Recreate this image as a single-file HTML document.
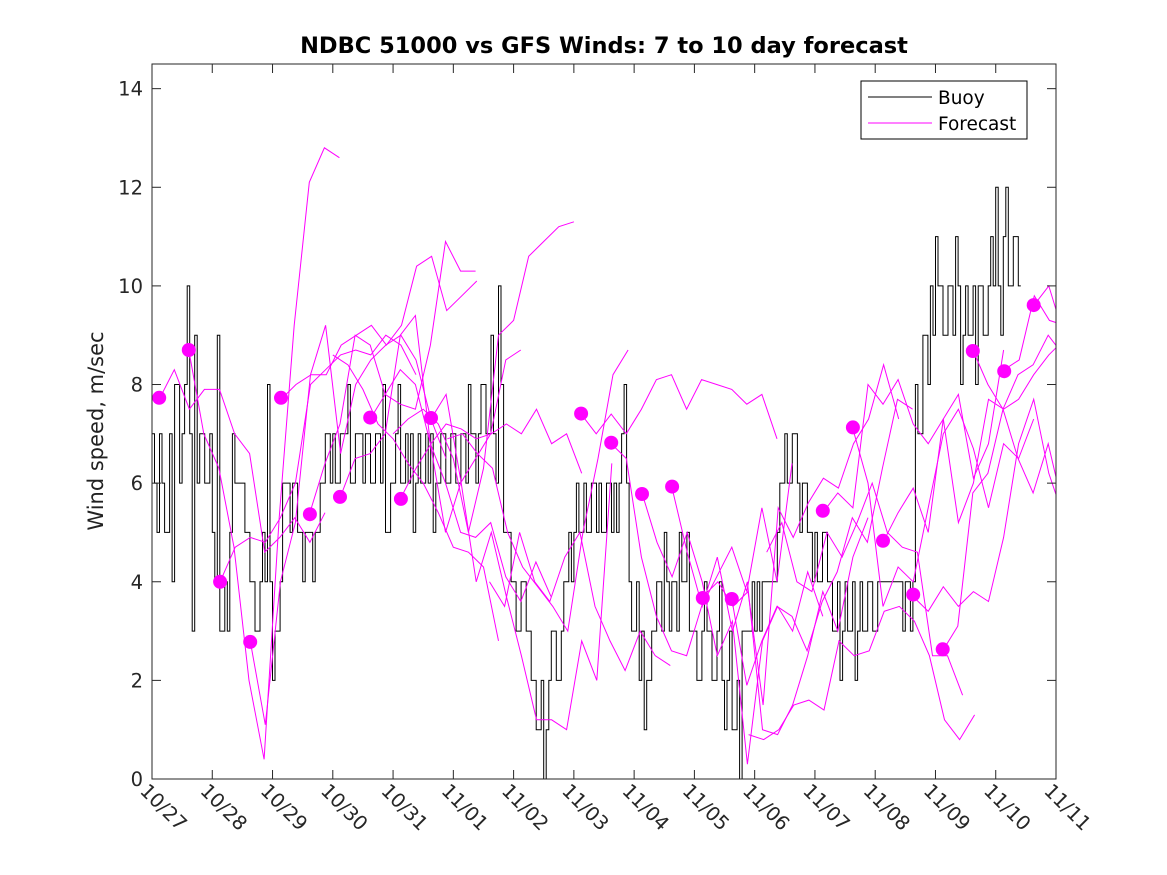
<!DOCTYPE html>
<html><head><meta charset="utf-8"><style>
html,body{margin:0;padding:0;background:#fff;}
svg{display:block;font-family:"DejaVu Sans","Liberation Sans",sans-serif;}
</style></head><body>
<svg id="chart" width="1167" height="875" viewBox="0 0 1167 875" xmlns="http://www.w3.org/2000/svg">
<rect x="0" y="0" width="1167" height="875" fill="#fff"/>
<text x="604" y="53" text-anchor="middle" font-size="22.5" font-weight="bold" fill="#000">NDBC 51000 vs GFS Winds: 7 to 10 day forecast</text>
<text transform="translate(103,431) rotate(-90)" text-anchor="middle" font-size="21" fill="#222">Wind speed, m/sec</text>
<g id="plot"></g>
<g id="axes"></g>
<g>
<rect x="861" y="81" width="166" height="58" fill="#fff" stroke="#000" stroke-width="1"/>
<line x1="868" y1="97" x2="932" y2="97" stroke="#000" stroke-width="1"/>
<text x="938" y="104" font-size="18.5" fill="#000">Buoy</text>
<line x1="868" y1="123" x2="932" y2="123" stroke="#ff00ff" stroke-width="1"/>
<text x="938" y="130" font-size="18.5" fill="#000">Forecast</text>
</g>
</svg>
<script>
const xTickLabels=["10/27","10/28","10/29","10/30","10/31","11/01","11/02","11/03","11/04","11/05","11/06","11/07","11/08","11/09","11/10","11/11"];
const yTicks=[0,2,4,6,8,10,12,14];
// buoy wind speed, 2-hour samples starting 10/27 00:00
const buoy=[
7,5,6,5,4,8,7,10,3,6,7,6,
5,9,3,3,7,6,6,5,4,3,5,8,
2,3,6,6,6,5,4,5,4,5,6,7,
7,6,7,8,6,7,6,7,6,7,8,5,
6,8,6,6,5,7,6,6,5,6,7,6,
7,6,7,8,7,7,8,7,7,10,5,5,
4,3,4,3,2,1,0,2,3,2,4,5,
5,5,6,5,6,6,5,6,6,6,8,4,
3,2,1,2,3,4,5,3,4,5,4,3,
3,2,4,3,2,4,1,3,1,0,3,3,
3,3,4,4,4,6,7,6,7,5,6,5,
5,4,5,4,3,2,4,3,2,4,3,4,
3,4,4,4,4,4,4,3,8,7,9,10,
11,10,9,10,11,8,10,9,8,10,9,11,
12,9,12,10,11];
const buoyAlt=[
6,7,5,7,8,6,8,7,9,7,6,7,
4,3,4,5,6,6,5,4,3,4,4,4,
3,4,6,5,6,5,5,5,5,6,7,6,
6,7,7,6,7,7,7,6,7,6,5,6,
7,6,7,7,6,6,7,7,6,7,6,7,
6,7,6,7,6,8,7,9,6,8,5,4,
3,4,3,2,1,2,1,3,2,3,4,4,
6,5,5,6,5,5,6,5,5,7,6,3,
4,3,2,3,4,3,4,4,3,4,5,3,
2,3,3,2,3,2,2,1,2,3,3,4,
4,4,4,4,5,6,6,7,6,6,5,4,
4,5,4,3,4,3,3,4,3,3,4,3,
4,4,4,4,4,3,4,4,7,9,8,9,
10,9,10,9,10,9,9,10,10,9,10,10,
10,11,10,11,10];
// forecast segments: start day (since 10/27) and values every 6 hours
const fcStart=[0.12,0.61,1.13,1.63,2.14,2.62,3.12,3.62,4.13,4.63,3.0,4.0,4.9,7.12,7.62,8.13,8.63,9.14,9.62,11.13,11.63,12.13,12.63,13.12,13.62,14.14,14.63,9.9,10.2,5.6];
const fcVals=[
[7.7,8.3,7.5,7.9,7.9,7.0,6.6,4.6,4.9,5.3,4.8,5.4],
[8.7,7.0,6.3,4.7,2.0,0.4,5.3,9.2,12.1,12.8,12.6],
[4.0,4.7,4.9,4.8,5.3,6.0,8.0,8.3,8.6,8.7,8.6,9.0,8.8,8.2],
[2.8,1.1,4.0,5.2,8.2,9.2,6.6,8.0,8.5,8.8,9.0,8.5,7.3,6.5],
[7.7,8.0,8.2,8.2,8.8,9.0,9.2,8.8,9.2,10.4,10.6,9.5,9.8,10.1],
[5.4,6.4,7.2,9.0,8.8,7.8,7.6,7.5,8.8,10.9,10.3,10.3],
[5.7,6.5,6.6,7.0,9.0,9.4,6.8,5.0,6.0,6.5,7.0,8.5,8.7],
[7.3,7.8,8.3,8.0,6.8,6.0,5.0,4.9,5.2,4.1,3.6,4.4,3.7],
[5.7,6.3,6.8,7.2,7.1,6.9,7.0,7.2,7.0,7.5,6.8,7.0,6.2],
[7.3,7.8,6.0,4.0,5.0,3.7,2.5,1.2,1.2,1.0,2.8,2.0,6.4],
[8.6,8.4,7.9,7.2,6.9,6.4,6.0,5.4,4.7,4.6,4.3,2.8],
[7.0,7.3,7.5,7.2,6.5,5.0,6.3,9.0,9.3,10.6,10.9,11.2,11.3],
[6.9,7.0,6.6,6.3,5.0,4.3,3.9,3.5,3.0,5.0,6.5,8.2,8.7],
[7.4,7.0,7.4,7.0,7.5,8.1,8.2,7.5,8.1,8.0,7.9,7.6,7.8,6.9],
[6.8,6.5,4.5,3.3,2.6,2.5,3.5,4.1,4.7,3.8,5.5,4.0,6.4],
[5.8,4.8,4.1,5.0,4.0,2.5,3.2,0.3,2.8,3.5,3.0,4.2,3.3],
[5.9,4.6,3.5,4.5,3.0,4.0,1.0,0.9,1.5,2.5,3.8,3.0,4.5,5.3],
[3.7,4.0,3.5,3.8,1.5,5.5,4.9,5.6,6.1,5.9,6.8,7.3,8.4,7.3],
[3.65,1.9,2.8,3.5,3.3,2.6,3.6,4.2,5.3,4.8,6.3,7.7,7.5],
[5.4,5.8,5.5,8.0,7.6,8.1,7.2,6.8,7.3,7.8,6.1,6.8,8.7],
[7.1,6.0,3.5,4.3,4.0,5.5,7.0,7.5,6.7,5.5,6.8,6.5,7.3],
[4.8,5.4,5.9,5.0,7.3,5.2,6.0,7.7,7.5,7.7,8.2,8.6,8.9],
[3.7,3.4,3.9,3.5,3.8,3.6,4.9,6.8,7.7,6.2,5.3,6.5,5.5],
[2.6,3.1,5.8,6.2,7.5,6.5,5.8,6.8,5.5,8.5,9.3,10.3],
[8.7,8.0,7.5,8.2,8.4,9.0,8.6,9.2,9.3,10.2,9.9,9.6,9.2],
[8.3,8.5,9.8,9.3,9.2,8.7,7.6],
[9.6,10.0,9.0,8.9,8.5,7.0],
[0.9,0.8,1.0,1.5,1.6,1.4,2.8,2.5,2.6,3.4,3.5,3.2,2.5,1.2,0.8,1.3],
[4.6,5.2,4.0,3.8,5.0,4.5,5.2,6.0,5.0,4.7,4.6,2.5,2.5,1.7],
[4.0,3.5,5.0,4.0,3.6,4.5,5.0,3.5,2.8,2.2,3.0,2.5,2.3]];
const dotDays=[0.12,0.61,1.13,1.63,2.14,2.62,3.12,3.62,4.13,4.63,7.12,7.62,8.13,8.63,9.14,9.62,11.13,11.63,12.13,12.63,13.12,13.62,14.14,14.63];
const dotVals=[7.73,8.7,4.0,2.78,7.73,5.37,5.72,7.33,5.68,7.32,7.41,6.82,5.78,5.93,3.67,3.65,5.44,7.13,4.83,3.74,2.63,8.68,8.27,9.61];

const NS="http://www.w3.org/2000/svg";
const L=152,R=1056,T=64,B=779,D0=0,D1=15,V0=0,V1=14.5;
const xs=d=>L+(d-D0)/(D1-D0)*(R-L);
const ys=v=>B-(v-V0)/(V1-V0)*(B-T);
const plot=document.getElementById('plot');
const axes=document.getElementById('axes');
function mk(tag,attrs,parent){const e=document.createElementNS(NS,tag);for(const k in attrs)e.setAttribute(k,attrs[k]);parent.appendChild(e);return e;}

const defs=mk('defs',{},plot);
const cp=mk('clipPath',{id:'clip'},defs);
mk('rect',{x:L,y:T,width:R-L,height:B-T},cp);
const g=mk('g',{'clip-path':'url(#clip)'},plot);

let pts=[];
for(let i=0;i<buoy.length;i++){
  const a=buoy[i],b=buoyAlt[i]!==undefined?buoyAlt[i]:a;
  const t0=i/12,t1=(i+0.5)/12,t2=(i+1)/12;
  pts.push([xs(t0),ys(a)],[xs(t1),ys(a)],[xs(t1),ys(b)],[xs(t2),ys(b)]);
  if(i+1<buoy.length)pts.push([xs(t2),ys(buoy[i+1])]);
}
const bl=mk('polyline',{points:pts.map(p=>p[0].toFixed(1)+','+p[1].toFixed(1)).join(' '),fill:'none',stroke:'#000','stroke-width':1},g);



fcVals.forEach((vals,k)=>{
  const p=vals.map((v,i)=>xs(fcStart[k]+i*0.25).toFixed(1)+','+ys(v).toFixed(1)).join(' ');
  const pl=mk('polyline',{points:p,fill:'none',stroke:'#ff00ff','stroke-width':1},g);
  
  
});
dotDays.forEach((d,i)=>{
  const c=mk('ellipse',{cx:xs(d).toFixed(1),cy:ys(dotVals[i]).toFixed(1),rx:7,ry:7,fill:'#ff00ff'},g);
  
  
});

const box=mk('rect',{x:L,y:T,width:R-L,height:B-T,fill:'none',stroke:'#262626','stroke-width':1},axes);


yTicks.forEach(v=>{
  const y=ys(v);
  mk('line',{x1:L,y1:y,x2:L+9,y2:y,stroke:'#262626'},axes);
  mk('line',{x1:R,y1:y,x2:R-9,y2:y,stroke:'#262626'},axes);
  const t=mk('text',{x:L-9,y:y+7,'text-anchor':'end','font-size':19.5,fill:'#262626'},axes);
  t.textContent=v;
  
  
});
xTickLabels.forEach((lab,i)=>{
  const x=xs(i);
  mk('line',{x1:x,y1:B,x2:x,y2:B-9,stroke:'#262626'},axes);
  mk('line',{x1:x,y1:T,x2:x,y2:T+9,stroke:'#262626'},axes);
  const t=mk('text',{transform:`translate(${x-13},${B+13}) rotate(45)`,'font-size':19.5,fill:'#262626'},axes);
  t.textContent=lab;
  
  
});
</script>
</body></html>
